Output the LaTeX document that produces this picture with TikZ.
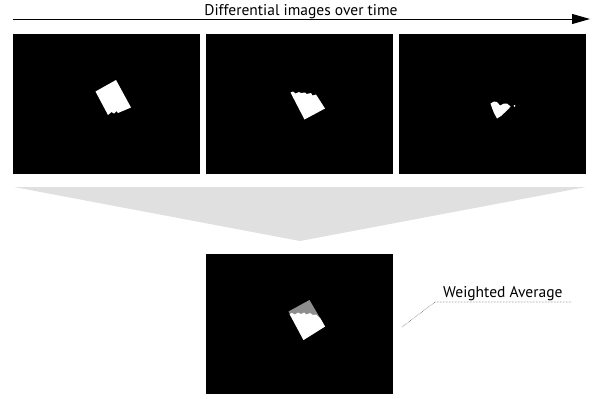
\documentclass[tikz,border=0pt]{standalone}
\usepackage{fontspec}
\setmainfont{PT Sans}
\usetikzlibrary{arrows.meta}
\definecolor{funnel}{HTML}{E0E0E0}
\definecolor{partial}{HTML}{8E8E8E}
\tikzset{
  frame/.style={fill=black, draw=none, minimum width=187pt, minimum height=140pt, inner sep=0pt, anchor=north west},
  blob/.style={fill=white, draw=none},
  caption/.style={font=\fontsize{15.5}{18}\selectfont, inner sep=0pt},
  leader/.style={draw=black!55, line width=0.6pt, dash pattern=on 0.6pt off 0.9pt}
}
\begin{document}
\begin{tikzpicture}[x=1pt, y=-1pt]
  \useasboundingbox (0,0) rectangle (592,399);

  % time axis
  \coordinate (t0) at (13,19);
  \coordinate (t1) at (590,19);
  \draw[line width=1pt, -{Triangle[length=18pt, width=10pt]}] (t0) -- (t1);
  \node[caption, anchor=base] (title) at (301,15) {Differential images over time};

  % differential frames
  \node[frame] (f1) at (13,34) {};
  \node[frame] (f2) at (206,34) {};
  \node[frame] (f3) at (399,34) {};

  % funnel into the averaged frame
  \fill[funnel] (14,187) -- (586,187) -- (300,241) -- cycle;

  % averaged frame
  \node[frame] (avg) at (206,254) {};

  % object in frame 1
  \fill[blob] (95.5,91.5) -- (116,80) -- (131,107.5) -- (118,113) -- (116.5,111) -- (114,113.5) -- (111.5,112) -- (108,115) -- cycle;

  % object in frame 2
  \fill[blob] (290.5,92.5) -- (293,91.5) -- (295.5,93.5) -- (299,92) -- (301,93) -- (305,92.5) -- (306.5,94) -- (311,93) -- (312.5,95.5) -- (316,94.5)
    -- (325,108.5) -- (304.5,119.5) -- cycle;

  % object in frame 3
  \fill[blob] (490.5,103.5) -- (494,101.5) -- (497,102) -- (500,105.5) -- (504,103.5) -- (507,103.5) -- (510.5,106.5)
    -- (508,109.5) -- (501,116) -- (497,118.5) -- (494,113) -- (492,108) -- cycle;
  \fill[blob] (514.5,105.8) circle (1pt);

  % weighted average: older pixels grey, recent pixels white
  \fill[partial] (288.5,311.5) -- (309.5,300) -- (325,326.5) -- (303.5,340) -- cycle;
  \fill[blob] (289.5,314) -- (292,313) -- (295,314.5) -- (298,312.5) -- (301,314) -- (304,312.5) -- (306.5,314.5) -- (310,313) -- (313,315) -- (316,314.5) -- (320.5,318.5)
    -- (325,326.5) -- (303.5,340) -- cycle;

  % annotation
  \node[caption, anchor=base west] (wlabel) at (443,297) {Weighted Average};
  \coordinate (knee) at (435,302);
  \coordinate (lineend) at (572,302);
  \coordinate (tip) at (402,327);
  \draw[leader] (tip) -- (knee) -- (lineend);
\end{tikzpicture}
\end{document}
